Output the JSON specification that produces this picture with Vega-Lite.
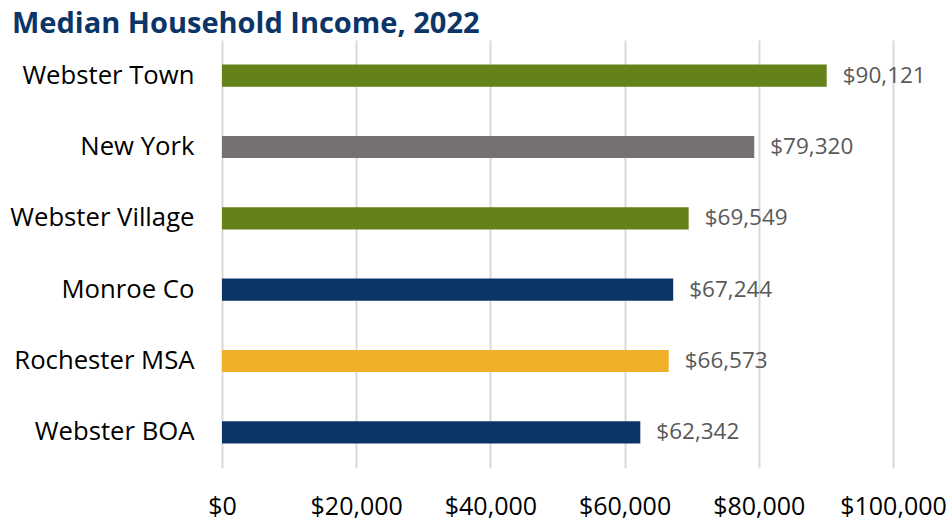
{
  "$schema": "https://vega.github.io/schema/vega-lite/v6.json",
  "width": 671,
  "height": 428,
  "autosize": {"type": "none"},
  "padding": {"left": 222, "top": 40, "right": 58, "bottom": 55},
  "background": "white",
  "title": {
    "text": "Median Household Income, 2022",
    "anchor": "start",
    "frame": "group",
    "dx": -210,
    "baseline": "alphabetic",
    "offset": -22,
    "font": "Open Sans",
    "fontSize": 29,
    "fontWeight": "bold",
    "color": "#0b3567"
  },
  "config": {"view": {"stroke": null}},
  "data": {
    "values": [
      {"place": "Webster Town", "income": 90121, "color": "#638219"},
      {"place": "New York", "income": 79320, "color": "#767171"},
      {"place": "Webster Village", "income": 69549, "color": "#638219"},
      {"place": "Monroe Co", "income": 67244, "color": "#0b3567"},
      {"place": "Rochester MSA", "income": 66573, "color": "#f0b02a"},
      {"place": "Webster BOA", "income": 62342, "color": "#0b3567"}
    ]
  },
  "encoding": {
    "y": {
      "field": "place",
      "type": "nominal",
      "sort": null,
      "title": null,
      "scale": {"paddingInner": 0.69, "paddingOuter": 0.345},
      "axis": {
        "domain": false,
        "ticks": false,
        "labelPadding": 28,
        "labelLimit": 300,
        "labelFont": "Open Sans",
        "labelFontSize": 25.7,
        "labelColor": "#000000"
      }
    },
    "x": {
      "field": "income",
      "type": "quantitative",
      "title": null,
      "scale": {"domain": [0, 100000], "nice": false},
      "axis": {
        "values": [0, 20000, 40000, 60000, 80000, 100000],
        "format": "$,.0f",
        "domain": false,
        "ticks": false,
        "grid": true,
        "gridColor": "#d9d9d9",
        "gridWidth": 2,
        "labelPadding": 26,
        "labelOverlap": false,
        "labelBound": false,
        "labelFlush": false,
        "labelFont": "Open Sans",
        "labelFontSize": 25,
        "labelColor": "#000000"
      }
    }
  },
  "layer": [
    {
      "mark": {"type": "bar"},
      "encoding": {
        "color": {"field": "color", "type": "nominal", "scale": null}
      }
    },
    {
      "mark": {
        "type": "text",
        "align": "left",
        "dx": 16,
        "font": "Open Sans",
        "fontSize": 22.5,
        "color": "#595959"
      },
      "encoding": {
        "text": {"field": "income", "type": "quantitative", "format": "$,.0f"}
      }
    }
  ]
}
